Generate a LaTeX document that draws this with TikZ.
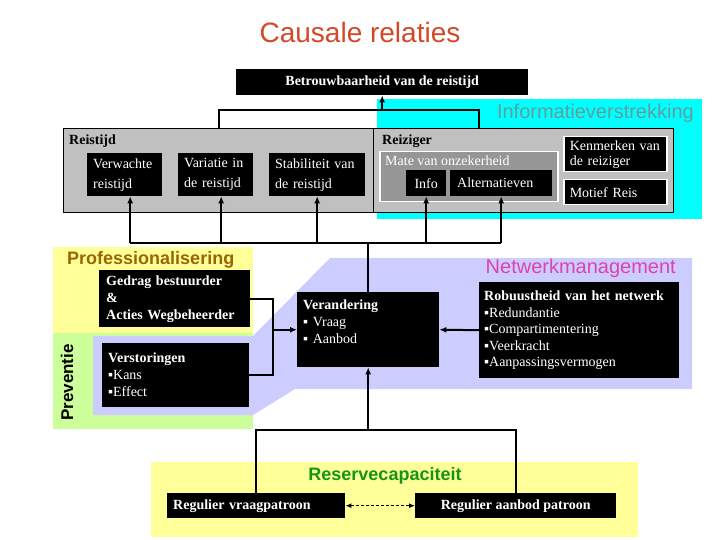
\documentclass[tikz,border=0pt]{standalone}
\usepackage{fontspec}
\setmainfont{Liberation Serif}
\newfontfamily\sansfont{Liberation Sans}
\usetikzlibrary{arrows.meta}

\definecolor{titlered}{RGB}{212,72,40}
\definecolor{infocyan}{RGB}{0,255,255}
\definecolor{infoteal}{RGB}{96,158,160}
\definecolor{profbrown}{RGB}{153,102,0}
\definecolor{netpink}{RGB}{221,68,170}
\definecolor{resgreen}{RGB}{20,150,20}
\definecolor{netlav}{RGB}{204,204,255}
\definecolor{profyellow}{RGB}{255,255,153}
\definecolor{prevgreen}{RGB}{204,255,153}
\definecolor{boxgrey}{RGB}{192,192,192}
\definecolor{mategrey}{RGB}{150,150,150}

\begin{document}
\begin{tikzpicture}[x=1pt,y=-1pt,
  bx/.style={fill=black, text=white, anchor=north west, align=left,
    inner xsep=6pt, inner ysep=0pt, font=\fontsize{14}{17}\selectfont},
  wbx/.style={bx, draw=white, line width=1.5pt},
  grp/.style={draw=black, fill=boxgrey, line width=1pt, anchor=north west, inner sep=0pt},
  grplabel/.style={anchor=base west, inner sep=0pt, font=\fontsize{14}{17}\selectfont\bfseries},
  conn/.style={line width=2pt},
  arr/.style={conn, -{Latex[length=7pt,width=6pt]}}]
\useasboundingbox (0,0) rectangle (720,540);

% achtergrondvlakken
\fill[infocyan] (377,99) rectangle (702,219);
\fill[profyellow] (53,247) rectangle (253,333);
\fill[prevgreen] (53,333) rectangle (253,429);
\fill[netlav] (93,336) -- (253,336) -- (330,258) -- (692,258) -- (692,389)
  -- (295,389) -- (253,415) -- (93,415) -- cycle;
\fill[profyellow] (151,462) rectangle (638,537);

\node[anchor=base, inner sep=0pt, text=titlered, font=\sansfont\fontsize{28}{30}\selectfont] (title) at (360,43) {Causale relaties};

\node[bx, minimum width=292pt, minimum height=26pt, align=center, font=\fontsize{14}{17}\selectfont\bfseries] (betr) at (236,69) {Betrouwbaarheid van de reistijd};

\node[anchor=base east, inner sep=0pt, text=infoteal, font=\sansfont\fontsize{20}{22}\selectfont] (info-lbl) at (694,119) {Informatieverstrekking};

% reistijd en reiziger
\node[grp, minimum width=310pt, minimum height=84pt] (reistijd) at (63,128) {};
\node[grp, minimum width=300pt, minimum height=84pt] (reiziger) at (373,128) {};
\node[grplabel] (reistijd-t) at (69,145) {Reistijd};
\node[grplabel] (reiziger-t) at (382,145) {Reiziger};

\node[bx, minimum width=75pt, minimum height=43pt, text width=63pt, font=\fontsize{14}{20}\selectfont] (verw) at (87,153) {Verwachte\\reistijd};
\node[bx, minimum width=75pt, minimum height=43pt, text width=63pt, font=\fontsize{14}{20}\selectfont] (var) at (178,153) {Variatie in\\de reistijd};
\node[bx, minimum width=96pt, minimum height=43pt, text width=84pt, font=\fontsize{14}{20}\selectfont] (stab) at (269,153) {Stabiliteit van\\de reistijd};

\node[anchor=north west, fill=mategrey, draw=white, line width=1.5pt, minimum width=178pt, minimum height=50pt, inner sep=0pt] (mate) at (379,151) {};
\node[anchor=base west, inner sep=0pt, text=white, font=\fontsize{14}{17}\selectfont] (mate-t) at (385,166) {Mate van onzekerheid};
\node[bx, minimum width=40pt, minimum height=26pt, inner xsep=0pt, align=center] (info) at (406,170) {Info};
\node[bx, minimum width=102pt, minimum height=26pt, inner xsep=7pt, text width=88pt] (alt) at (450,170) {Alternatieven};

\node[wbx, minimum width=103pt, minimum height=35pt, text width=91pt, font=\fontsize{14}{15}\selectfont] (kenm) at (563,136) {Kenmerken van\\de reiziger};
\node[wbx, minimum width=103pt, minimum height=25pt, text width=91pt] (motief) at (563,179) {Motief Reis};

% professionalisering, preventie, netwerkmanagement
\node[anchor=base west, inner sep=0pt, text=profbrown, font=\sansfont\fontsize{18}{20}\selectfont\bfseries] (prof-lbl) at (67,264) {Professionalisering};
\node[anchor=base, rotate=90, inner sep=0pt, font=\sansfont\fontsize{17}{19}\selectfont\bfseries] (prev-lbl) at (73,382.5) {Preventie};
\node[anchor=base east, inner sep=0pt, text=netpink, font=\sansfont\fontsize{20}{22}\selectfont] (net-lbl) at (676,273) {Netwerkmanagement};

\node[bx, minimum width=151pt, minimum height=57pt, inner xsep=7pt, text width=137pt, font=\fontsize{14}{17}\selectfont\bfseries] (gedrag) at (99,270) {Gedrag bestuurder\\\&\\Acties Wegbeheerder};
\node[bx, minimum width=147pt, minimum height=64pt, text width=135pt] (verst) at (102,343) {\textbf{Verstoringen}\\▪Kans\\▪Effect};
\node[bx, minimum width=142pt, minimum height=75pt, text width=130pt] (verand) at (297,292) {\textbf{Verandering}\\▪ Vraag\\▪ Aanbod\rule[-17pt]{0pt}{0pt}};
\node[bx, minimum width=200pt, minimum height=96pt, inner xsep=5pt, text width=190pt, font=\fontsize{14}{16.5}\selectfont] (robu) at (479,282) {\textbf{Robuustheid van het netwerk}\\▪Redundantie\\▪Compartimentering\\▪Veerkracht\\▪Aanpassingsvermogen};

% reservecapaciteit
\node[anchor=base, inner sep=0pt, text=resgreen, font=\sansfont\fontsize{18}{20}\selectfont\bfseries] (res-lbl) at (385,480) {Reservecapaciteit};
\node[bx, minimum width=178pt, minimum height=25pt, text width=166pt, font=\fontsize{14}{17}\selectfont\bfseries] (vraag) at (167,493) {Regulier vraagpatroon};
\node[bx, minimum width=201pt, minimum height=25pt, align=center, font=\fontsize{14}{17}\selectfont\bfseries] (aanbod) at (415,493) {Regulier aanbod patroon};

% verbindingen
\coordinate (topbar) at (0,110);
\coordinate (midbar) at (0,243);
\coordinate (lbar) at (273,0);
\coordinate (botbar) at (0,430);

\draw[conn] (reistijd.north) -- (reistijd.north |- topbar) -- ([xshift=-45pt]reiziger.north |- topbar) -- ([xshift=-45pt]reiziger.north);
\draw[arr] (betr.south |- topbar) -- (betr.south);

\draw[conn] ([xshift=5.5pt]verw.south |- midbar) -- (alt.south |- midbar);
\foreach \b/\s in {verw/5.5, var/5.5, stab/0, info/0, alt/0}
  \draw[arr] ([xshift=\s pt]\b.south |- midbar) -- ([xshift=\s pt]\b.south);
\draw[conn] (verand.north) -- (verand.north |- midbar);

\draw[conn] (gedrag.east) -- (gedrag.east -| lbar) -- (verst.east -| lbar) -- (verst.east);
\draw[arr] (verand.west -| lbar) -- (verand.west);
\draw[arr] (robu.west) -- (verand.east);

\draw[conn] (vraag.north) -- (vraag.north |- botbar) -- (aanbod.north |- botbar) -- (aanbod.north);
\draw[arr] (verand.south |- botbar) -- (verand.south);
\draw[line width=1.5pt, dash pattern=on 3pt off 2pt, {Latex[length=6pt,width=5pt]}-{Latex[length=6pt,width=5pt]}] (vraag.east) -- (aanbod.west);

\end{tikzpicture}
\end{document}
